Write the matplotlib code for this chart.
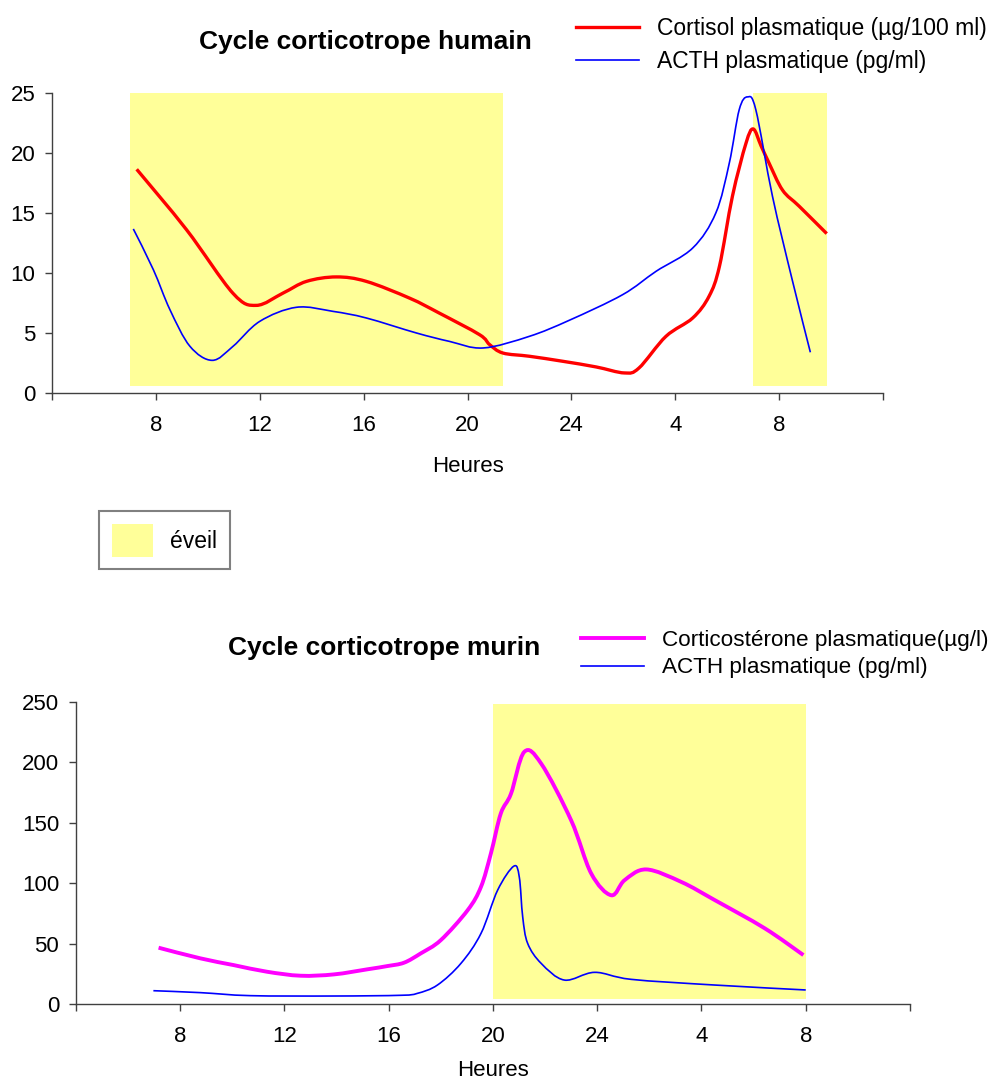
import matplotlib
matplotlib.use("Agg")
import matplotlib.pyplot as plt
from matplotlib.patches import Patch, PathPatch
from matplotlib.path import Path
from matplotlib.lines import Line2D

plt.rcParams['font.family'] = ['Liberation Sans', 'DejaVu Sans']

# hours run past midnight (28 = 4h, 32 = 8h next day)
tick_hours = [4, 8, 12, 16, 20, 24, 28, 32, 36]
tick_labels = ['', '8', '12', '16', '20', '24', '4', '8', '']

# --- human cycle ---
hum_cortisol_h = [7.26, 9.18, 10.97, 11.87, 12.9, 13.8, 14.95, 16.1, 17.77, 18.9,
                  20.46, 20.85, 21.36, 22.38, 23.67, 24.95, 26.04, 26.6, 27.64,
                  28.67, 29.3, 29.7, 30.2, 30.72, 31.0, 31.3, 31.6, 32.13, 32.77, 33.83]
hum_cortisol = [18.64, 13.6, 8.3, 7.3, 8.33, 9.3, 9.67, 9.3, 7.9, 6.67,
                4.86, 4.03, 3.33, 3.06, 2.64, 2.17, 1.67, 2.08, 4.72,
                6.25, 8.06, 10.56, 16.4, 20.8, 22.0, 20.6, 19.2, 16.9, 15.56, 13.28]

hum_acth_h = [7.13, 7.9, 8.54, 9.31, 10.17, 10.97, 12.0, 13.41, 14.82, 16.1, 18.03,
              19.3, 20.6, 22.38, 23.92, 25.97, 27.26, 28.67, 29.56, 30.08, 30.46,
              30.78, 31.1, 31.74, 32.5, 33.2]
hum_acth = [13.67, 10.28, 6.94, 3.89, 2.72, 3.89, 5.97, 7.14, 6.8, 6.25, 5.0,
            4.3, 3.75, 4.72, 6.06, 8.19, 10.14, 12.08, 15.0, 19.17, 23.6,
            24.67, 23.6, 16.4, 9.44, 3.39]

hum_awake_start = [7.0, 31.0]
hum_awake_end = [21.35, 33.85]

# --- murine cycle ---
mur_cort_h = [7.17, 8.77, 10.05, 11.33, 12.62, 13.9, 15.18, 15.95, 16.59, 17.23,
              18.0, 19.03, 19.54, 19.92, 20.3, 20.69, 21.2, 21.85, 23.0, 23.77,
              24.54, 25.05, 25.88, 27.23, 28.51, 30.43, 31.91]
mur_cort = [46.6, 37.8, 32.2, 26.7, 23.4, 24.5, 28.7, 31.4, 34.2, 41.9,
            52.9, 77.7, 97.0, 124.6, 157.7, 174.0, 208.7, 199.0, 152.0, 108.0,
            90.0, 102.5, 111.4, 101.0, 86.0, 62.6, 40.5]

mur_acth_h = [6.97, 8.77, 10.69, 13.9, 16.46, 17.1, 17.87, 18.77, 19.54, 20.18,
              20.8, 21.01, 21.14, 21.33, 21.85, 22.74, 23.9, 25.3, 28.5, 32.0]
mur_acth = [11.0, 9.4, 6.9, 6.6, 7.2, 8.8, 15.7, 33.6, 58.4, 94.3,
            114.1, 105.0, 72.2, 50.2, 33.6, 19.8, 26.2, 20.4, 15.7, 11.6]

mur_awake_start = [20.0]
mur_awake_end = [32.0]

YELLOW = '#FFFF99'
AXCOL = '#404040'


def smooth_line(ax, xs, ys, **kw):
    # Excel-style smoothed line: bezier segments through the data points
    pts = list(zip(xs, ys))
    verts = [pts[0]]
    codes = [Path.MOVETO]
    n = len(pts)
    for i in range(n - 1):
        p0 = pts[max(i - 1, 0)]
        p1 = pts[i]
        p2 = pts[i + 1]
        p3 = pts[min(i + 2, n - 1)]
        c1 = (p1[0] + (p2[0] - p0[0]) / 6, p1[1] + (p2[1] - p0[1]) / 6)
        c2 = (p2[0] - (p3[0] - p1[0]) / 6, p2[1] - (p3[1] - p1[1]) / 6)
        verts += [c1, c2, p2]
        codes += [Path.CURVE4] * 3
    patch = PathPatch(Path(verts, codes), facecolor='none',
                      capstyle='butt', joinstyle='round', **kw)
    ax.add_patch(patch)
    return Line2D([], [], color=kw.get('edgecolor'), lw=kw.get('lw'))


def style_axes(ax, ymax, ystep, labelpad):
    ax.set_xlim(4, 36)
    ax.set_ylim(0, ymax)
    ax.set_xticks(tick_hours)
    ax.set_xticklabels(tick_labels)
    ax.set_yticks(range(0, ymax + 1, ystep))
    for s in ['top', 'right']:
        ax.spines[s].set_visible(False)
    for s in ['left', 'bottom']:
        ax.spines[s].set_color(AXCOL)
        ax.spines[s].set_linewidth(1.0)
    ax.tick_params(axis='both', direction='out', length=5, width=1.0,
                   color=AXCOL, labelsize=16)
    ax.tick_params(axis='y', pad=7)
    ax.tick_params(axis='x', pad=11)
    ax.set_xlabel('Heures', fontsize=16, labelpad=labelpad)


fig = plt.figure(figsize=(9.93, 10.82), dpi=100)

# top chart
ax1 = fig.add_axes([0.0524, 0.6368, 0.8369, 0.2773])
for a, b in zip(hum_awake_start, hum_awake_end):
    ax1.axvspan(a, b, ymin=0.024, ymax=1.0, color=YELLOW, lw=0, zorder=0)
h1 = smooth_line(ax1, hum_cortisol_h, hum_cortisol, edgecolor='#FF0000', lw=2.4, zorder=3)
h2 = smooth_line(ax1, hum_acth_h, hum_acth, edgecolor='#0000FF', lw=1.2, zorder=4)
style_axes(ax1, 25, 5, 14)
fig.text(365 / 993, 1 - 42 / 1082, 'Cycle corticotrope humain', ha='center',
         va='center', fontsize=19, fontweight='bold')
fig.legend(handles=[h1, h2],
           labels=['Cortisol plasmatique (µg/100 ml)', 'ACTH plasmatique (pg/ml)'],
           loc='upper left', frameon=False, fontsize=16.5,
           handlelength=2.75, handletextpad=0.8, labelspacing=0.43,
           bbox_to_anchor=(560 / 993, 1 - 1 / 1082), borderpad=0.2)

# awake legend box
fig.legend(handles=[Patch(facecolor=YELLOW, edgecolor='none')], labels=['éveil'],
           loc='upper left', fontsize=16.5, frameon=True, fancybox=False,
           edgecolor='#808080', framealpha=1, handlelength=1.8, handleheight=1.85,
           handletextpad=0.75, borderpad=0.55, borderaxespad=0,
           bbox_to_anchor=(99 / 993, 1 - 511 / 1082))
fig.legends[-1].get_frame().set_linewidth(1.5)

# bottom chart
ax2 = fig.add_axes([0.0765, 0.0721, 0.8399, 0.2791])
for a, b in zip(mur_awake_start, mur_awake_end):
    ax2.axvspan(a, b, ymin=0.016, ymax=0.992, color=YELLOW, lw=0, zorder=0)
h3 = smooth_line(ax2, mur_cort_h, mur_cort, edgecolor='#FF00FF', lw=2.8, zorder=3)
h4 = smooth_line(ax2, mur_acth_h, mur_acth, edgecolor='#0000FF', lw=1.2, zorder=4)
style_axes(ax2, 250, 50, 9)
fig.text(384 / 993, 1 - 648 / 1082, 'Cycle corticotrope murin', ha='center',
         va='center', fontsize=19, fontweight='bold')
fig.legend(handles=[h3, h4],
           labels=['Corticostérone plasmatique(µg/l)', 'ACTH plasmatique (pg/ml)'],
           loc='upper left', frameon=False, fontsize=16.2,
           handlelength=2.8, handletextpad=0.8, labelspacing=0.3,
           bbox_to_anchor=(565 / 993, 1 - 614 / 1082), borderpad=0.2)

fig.savefig('out.png', dpi=100)
